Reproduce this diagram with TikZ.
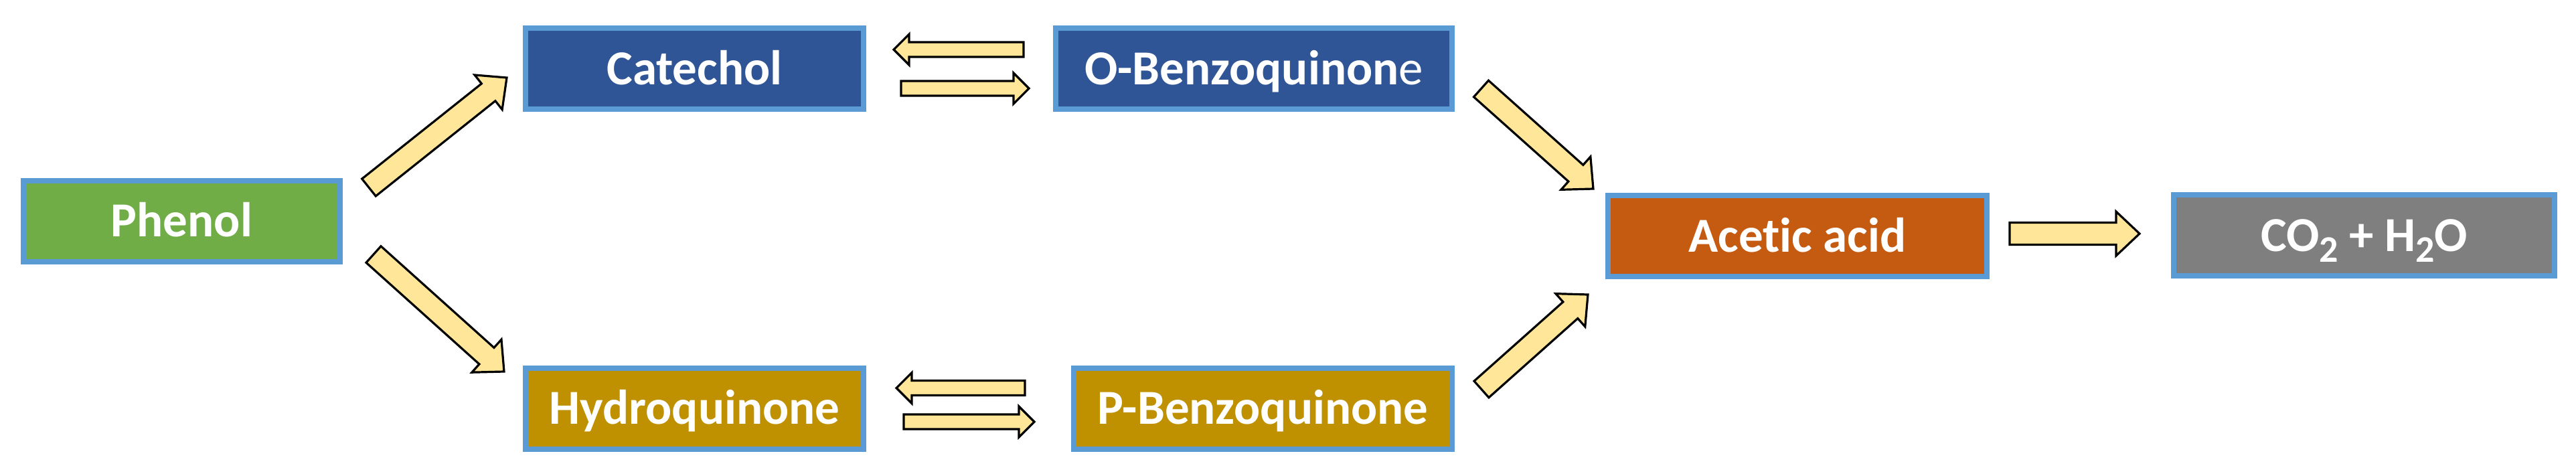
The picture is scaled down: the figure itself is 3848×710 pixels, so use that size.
\documentclass[tikz,border=0pt]{standalone}
\usepackage{fontspec}
\setmainfont{Carlito}[Ligatures=NoCommon]
\usetikzlibrary{calc}
\definecolor{edgeblue}{HTML}{5B9BD5}
\definecolor{darkblue}{HTML}{2F5597}
\definecolor{leafgreen}{HTML}{70AD47}
\definecolor{goldbox}{HTML}{BF9000}
\definecolor{orangebox}{HTML}{C55A11}
\definecolor{greybox}{HTML}{7F7F7F}
\definecolor{arrowfill}{HTML}{FFE699}
\tikzset{
  box/.style={draw=edgeblue, line width=2pt, text=white,
    font=\fontsize{18.25}{20}\selectfont\bfseries,
    minimum height=30.25pt, inner sep=0pt,
    text height=11.75pt, text depth=0pt, anchor=center},
  barrow/.style={draw=black, fill=arrowfill, line width=0.8pt, line join=miter},
}
\newcommand\subtwo{\raisebox{-4pt}{\fontsize{14}{14}\selectfont 2}}
% block arrow: #1 half shaft, #2 half head, #3 head length, #4 from, #5 to
\newcommand\blockarr[5]{%
  \path ($(#5)!#3!(#4)$) coordinate (hb);
  \draw[barrow] ($(#4)!#1!90:(#5)$) -- ($(hb)!#1!90:(#5)$) -- ($(hb)!#2!90:(#5)$)
    -- (#5) -- ($(hb)!#2!-90:(#5)$) -- ($(hb)!#1!-90:(#5)$) -- ($(#4)!#1!-90:(#5)$) -- cycle;
}
\newcommand\bigarr[2]{\blockarr{4.125pt}{8.25pt}{8.75pt}{#1}{#2}}
\newcommand\smallarr[2]{\blockarr{2.75pt}{5.75pt}{5.75pt}{#1}{#2}}
\begin{document}
\begin{tikzpicture}[x=0.25pt, y=-0.25pt]
\useasboundingbox (0,0) rectangle (3848,710);
% boxes
\node[box, fill=leafgreen, minimum width=118.25pt] (phenol) at (271.5,330) {Phenol};
\node[box, fill=darkblue, minimum width=126.25pt] (catechol) at (1037.5,102.5) {Catechol};
\node[box, fill=goldbox, minimum width=126.25pt] (hydro) at (1037.5,610) {Hydroquinone};
\node[box, fill=darkblue, minimum width=148pt] (obenzo) at (1873,102.5) {O-Benzoquinon{\mdseries e}};
\node[box, fill=goldbox, minimum width=141.25pt] (pbenzo) at (1886.5,610) {P-Benzoquinone};
\node[box, fill=orangebox, minimum width=141.5pt] (acetic) at (2685,352.5) {Acetic acid};
\node[box, fill=greybox, minimum width=142.25pt] (co2) at (3531.5,351.5) {CO\subtwo{} + H\subtwo O};
% arrow end points
\coordinate (a1s) at (551,280);   \coordinate (a1e) at (757,116);
\coordinate (a2s) at (558,380);   \coordinate (a2e) at (753,555);
\coordinate (a3s) at (2212.5,132.5); \coordinate (a3e) at (2380,282);
\coordinate (a4s) at (2213,581.5); \coordinate (a4e) at (2372,440);
\coordinate (a5s) at (3002,349);  \coordinate (a5e) at (3196,349);
\coordinate (d1s) at (1529,74);   \coordinate (d1e) at (1335,74);
\coordinate (d2s) at (1346,132);  \coordinate (d2e) at (1537,132);
\coordinate (d3s) at (1531,579.5); \coordinate (d3e) at (1339,579.5);
\coordinate (d4s) at (1350,630);  \coordinate (d4e) at (1545,630);
% arrows
\bigarr{a1s}{a1e}
\bigarr{a2s}{a2e}
\bigarr{a3s}{a3e}
\bigarr{a4s}{a4e}
\bigarr{a5s}{a5e}
\smallarr{d1s}{d1e}
\smallarr{d2s}{d2e}
\smallarr{d3s}{d3e}
\smallarr{d4s}{d4e}
\end{tikzpicture}
\end{document}
